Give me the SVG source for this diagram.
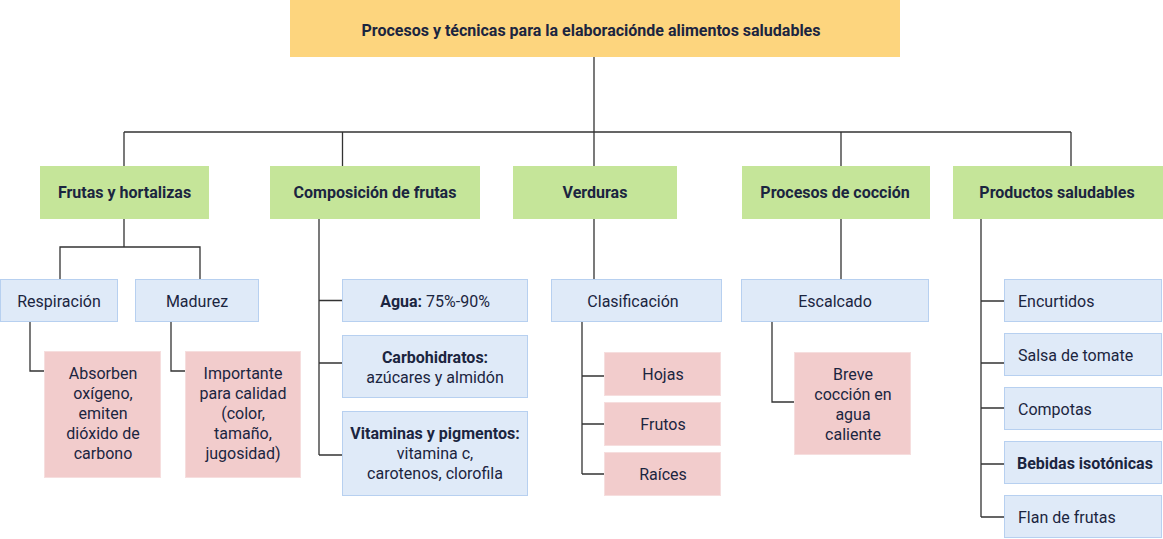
<svg xmlns="http://www.w3.org/2000/svg" width="1163" height="539" viewBox="0 0 1163 539">
<style>
  text { font-family: Roboto, "Liberation Sans", sans-serif; font-size: 16px; fill: #1b2540; }
  .b { font-weight: bold; }
  .c { text-anchor: middle; }
  .title { fill: #fdd57e; }
  .green { fill: #c5e599; }
  .blue { fill: #dfeaf8; stroke: #b7d0f0; stroke-width: 1; }
  .pink { fill: #f2cccc; stroke: #f6dede; stroke-width: 1; }
  #connectors path { fill: none; stroke: #333333; stroke-width: 1.3; }
</style>
<rect width="1163" height="539" fill="#ffffff"/>
<g id="connectors">
  <path d="M594 57 V132 M124 132 H1071 M124 132 V166 M342.5 132 V166 M594 132 V166 M841 132 V166 M1071 132 V166"/>
  <path d="M124 219 V247 M60 279 V247 H200 V279"/>
  <path d="M30 322 V371 H44.5 M171 322 V371 H185"/>
  <path d="M319 219 V455 M319 300.5 H342 M319 363 H342 M319 455 H342"/>
  <path d="M594 219 V279 M582 322 V474 M582 376 H604 M582 424 H604 M582 474 H604"/>
  <path d="M841 219 V279 M772 322 V402 H794"/>
  <path d="M981 219 V517 M981 301 H1004 M981 363 H1004 M981 408 H1004 M981 464 H1004 M981 517 H1004"/>
</g>
<g id="root">
  <rect class="title" x="290" y="0" width="610" height="57"/>
  <text class="b c" x="591" y="35.5">Procesos y técnicas para la elaboraciónde alimentos saludables</text>
</g>
<g id="frutas-hortalizas">
  <rect class="green" x="40" y="166" width="169" height="53"/>
  <text class="b c" x="124.5" y="197.5">Frutas y hortalizas</text>
</g>
<g id="composicion">
  <rect class="green" x="270" y="166" width="210" height="53"/>
  <text class="b c" x="375" y="197.5">Composición de frutas</text>
</g>
<g id="verduras">
  <rect class="green" x="513" y="166" width="164" height="53"/>
  <text class="b c" x="595" y="197.5">Verduras</text>
</g>
<g id="coccion">
  <rect class="green" x="742" y="166" width="188" height="53"/>
  <text class="b c" x="835" y="197.5">Procesos de cocción</text>
</g>
<g id="productos">
  <rect class="green" x="953" y="166" width="210" height="53"/>
  <text class="b c" x="1057" y="197.5">Productos saludables</text>
</g>
<g id="respiracion">
  <rect class="blue" x="0.5" y="279.5" width="117" height="42"/>
  <text class="c" x="59" y="306.5">Respiración</text>
</g>
<g id="madurez">
  <rect class="blue" x="135.5" y="279.5" width="123" height="42"/>
  <text class="c" x="197" y="306.5">Madurez</text>
</g>
<g id="absorben">
  <rect class="pink" x="44.5" y="351.5" width="116" height="126"/>
  <text class="c" x="103" y="378.5">Absorben</text>
  <text class="c" x="103" y="398.5">oxígeno,</text>
  <text class="c" x="103" y="418.5">emiten</text>
  <text class="c" x="103" y="438.5">dióxido de</text>
  <text class="c" x="103" y="458.5">carbono</text>
</g>
<g id="importante">
  <rect class="pink" x="185.5" y="351.5" width="115" height="126"/>
  <text class="c" x="243" y="378.5">Importante</text>
  <text class="c" x="243" y="398.5">para calidad</text>
  <text class="c" x="243" y="418.5">(color,</text>
  <text class="c" x="243" y="438.5">tamaño,</text>
  <text class="c" x="243" y="458.5">jugosidad)</text>
</g>
<g id="agua">
  <rect class="blue" x="342.5" y="279.5" width="185" height="42"/>
  <text class="c" x="435" y="306.5"><tspan class="b">Agua:</tspan> 75%-90%</text>
</g>
<g id="carbohidratos">
  <rect class="blue" x="342.5" y="335.5" width="185" height="62"/>
  <text class="b c" x="435" y="362.5">Carbohidratos:</text>
  <text class="c" x="435" y="382.5">azúcares y almidón</text>
</g>
<g id="vitaminas">
  <rect class="blue" x="342.5" y="411.5" width="185" height="84"/>
  <text class="b c" x="435" y="438.5">Vitaminas y pigmentos:</text>
  <text class="c" x="435" y="458.5">vitamina c,</text>
  <text class="c" x="435" y="478.5">carotenos, clorofila</text>
</g>
<g id="clasificacion">
  <rect class="blue" x="551.5" y="279.5" width="170" height="42"/>
  <text class="c" x="633" y="306.5">Clasificación</text>
</g>
<g id="hojas">
  <rect class="pink" x="604.5" y="352.5" width="116" height="43"/>
  <text class="c" x="663" y="379.5">Hojas</text>
</g>
<g id="frutos">
  <rect class="pink" x="604.5" y="402.5" width="116" height="43"/>
  <text class="c" x="663" y="429.5">Frutos</text>
</g>
<g id="raices">
  <rect class="pink" x="604.5" y="452.5" width="116" height="43"/>
  <text class="c" x="663" y="479.5">Raíces</text>
</g>
<g id="escalcado">
  <rect class="blue" x="741.5" y="279.5" width="187" height="42"/>
  <text class="c" x="835" y="306.5">Escalcado</text>
</g>
<g id="breve">
  <rect class="pink" x="794.5" y="352.5" width="116" height="102"/>
  <text class="c" x="853" y="379.5">Breve</text>
  <text class="c" x="853" y="399.5">cocción en</text>
  <text class="c" x="853" y="419.5">agua</text>
  <text class="c" x="853" y="439.5">caliente</text>
</g>
<g id="encurtidos">
  <rect class="blue" x="1004.5" y="279.5" width="157" height="42"/>
  <text x="1018" y="306.5">Encurtidos</text>
</g>
<g id="salsa">
  <rect class="blue" x="1004.5" y="333.5" width="157" height="42"/>
  <text x="1018" y="360.5">Salsa de tomate</text>
</g>
<g id="compotas">
  <rect class="blue" x="1004.5" y="387.5" width="157" height="42"/>
  <text x="1018" y="414.5">Compotas</text>
</g>
<g id="bebidas">
  <rect class="blue" x="1004.5" y="441.5" width="157" height="42"/>
  <text class="b" x="1017" y="468.5">Bebidas isotónicas</text>
</g>
<g id="flan">
  <rect class="blue" x="1004.5" y="495.5" width="157" height="42"/>
  <text x="1018" y="522.5">Flan de frutas</text>
</g>
</svg>
